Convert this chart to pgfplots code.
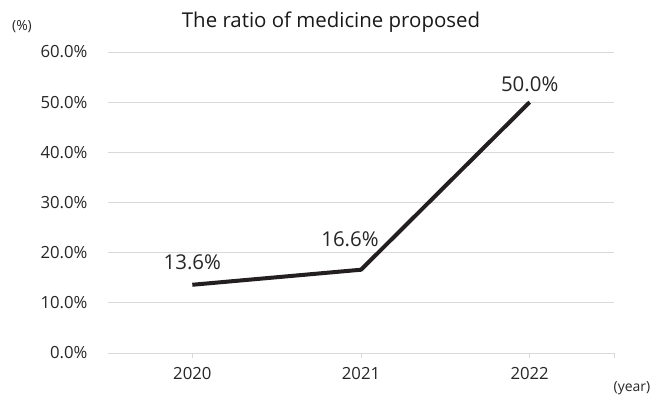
\documentclass[border=0pt]{standalone}
\usepackage{pgfplots}
\pgfplotsset{compat=1.18}
\usepackage{fontspec}
\setmainfont{Open Sans}
\definecolor{gridc}{HTML}{D9D9D9}
\definecolor{linec}{HTML}{231F20}
\begin{document}
\begin{tikzpicture}
\useasboundingbox (-108bp,-44bp) rectangle (546bp,353bp);
\begin{axis}[
  scale only axis,
  width=506bp, height=301bp,
  xmin=-0.5, xmax=2.5,
  ymin=0, ymax=60,
  xtick={0,1,2}, xticklabels={2020,2021,2022},
  ytick={0,10,...,60},
  yticklabel={\pgfmathprintnumber[fixed,fixed zerofill,precision=1]{\tick}\%},
  /pgf/number format/assume math mode=true,
  axis x line*=bottom, axis y line*=left,
  y axis line style={draw=none},
  ytick style={draw=none},
  ymajorgrids, grid style={gridc, line width=0.8pt},
  x axis line style={gridc, line width=0.8pt, -},
  major tick length=5bp,
  xtick style={gridc, line width=0.8pt},
  tick align=outside,
  extra x ticks={2.5}, extra x tick labels={},
  extra x tick style={tick style={gridc, line width=0.8pt}, grid=none},
  ticklabel style={font=\fontsize{16.8}{19}\selectfont, text=black!85},
  xticklabel style={yshift=-6bp},
  yticklabel style={xshift=-12bp},
  clip=false,
]
\addplot[linec, line width=4bp, line join=round,
  visualization depends on={value \coordindex \as \idx},
  nodes near coords={\pgfmathprintnumber[fixed,fixed zerofill,precision=1]{\pgfplotspointmeta}\%},
  nodes near coords style={font=\fontsize{20.5}{24}\selectfont, text=black!85, anchor=center,
    xshift={(\idx==1 ? -11 : 0)*1bp}, yshift={(\idx==0 ? 23 : (\idx==1 ? 30 : 18))*1bp}},
  point meta=explicit] coordinates {
  (0,13.6) [13.6]
  (1,16.6) [16.6]
  (2,50.0) [50.0]
};
\end{axis}
\node[anchor=center, font=\fontsize{20.5}{24}\selectfont, text=black!90] at (223bp,331bp) {The ratio of medicine proposed};
\node[anchor=center, font=\fontsize{14}{16}\selectfont, text=black!85] at (-86bp,326bp) {(\%)};
\node[anchor=center, font=\fontsize{14}{16}\selectfont, text=black!85] at (524bp,-35bp) {(year)};
\end{tikzpicture}
\end{document}
